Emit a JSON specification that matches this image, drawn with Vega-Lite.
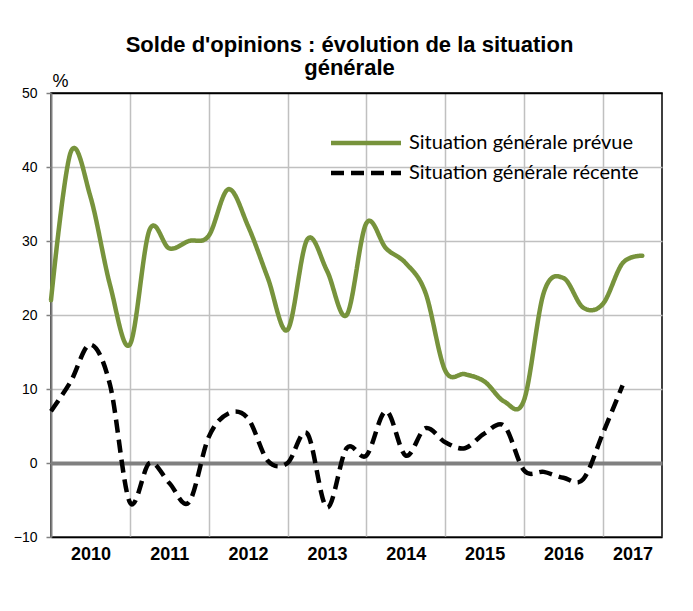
{
  "$schema": "https://vega.github.io/schema/vega-lite/v6.json",
  "width": 611,
  "height": 444,
  "autosize": {"type": "none"},
  "padding": {"left": 51, "top": 93, "right": 31, "bottom": 74},
  "background": "white",
  "title": {
    "text": ["Solde d'opinions : évolution de la situation", "générale"],
    "font": "Liberation Sans",
    "fontSize": 22,
    "fontWeight": "bold",
    "color": "#000000",
    "anchor": "middle",
    "dx": -7,
    "offset": -8,
    "lineHeight": 23
  },
  "config": {
    "view": {"stroke": "#000000", "strokeWidth": 1.5},
    "legend": {
      "orient": "none",
      "legendX": 295,
      "legendY": 30,
      "symbolType": "M-2,0H2",
      "symbolSize": 1225,
      "symbolStrokeWidth": 4.5,
      "labelFont": "Lato",
      "labelFontSize": 20,
      "labelColor": "#000000",
      "labelLimit": 400,
      "labelOffset": 23,
      "rowPadding": 0
    }
  },
  "data": {
    "values": [
      {"t": 2010.0, "serie": "Situation générale prévue", "v": 22},
      {"t": 2010.25, "serie": "Situation générale prévue", "v": 42},
      {"t": 2010.5, "serie": "Situation générale prévue", "v": 36},
      {"t": 2010.75, "serie": "Situation générale prévue", "v": 24},
      {"t": 2011.0, "serie": "Situation générale prévue", "v": 16},
      {"t": 2011.25, "serie": "Situation générale prévue", "v": 31.5},
      {"t": 2011.5, "serie": "Situation générale prévue", "v": 29},
      {"t": 2011.75, "serie": "Situation générale prévue", "v": 30},
      {"t": 2012.0, "serie": "Situation générale prévue", "v": 30.7},
      {"t": 2012.25, "serie": "Situation générale prévue", "v": 37},
      {"t": 2012.5, "serie": "Situation générale prévue", "v": 32},
      {"t": 2012.75, "serie": "Situation générale prévue", "v": 25},
      {"t": 2013.0, "serie": "Situation générale prévue", "v": 18},
      {"t": 2013.25, "serie": "Situation générale prévue", "v": 30.2},
      {"t": 2013.5, "serie": "Situation générale prévue", "v": 26},
      {"t": 2013.75, "serie": "Situation générale prévue", "v": 20},
      {"t": 2014.0, "serie": "Situation générale prévue", "v": 32.4},
      {"t": 2014.25, "serie": "Situation générale prévue", "v": 29},
      {"t": 2014.5, "serie": "Situation générale prévue", "v": 27},
      {"t": 2014.75, "serie": "Situation générale prévue", "v": 23},
      {"t": 2015.0, "serie": "Situation générale prévue", "v": 12.5},
      {"t": 2015.25, "serie": "Situation générale prévue", "v": 12},
      {"t": 2015.5, "serie": "Situation générale prévue", "v": 11},
      {"t": 2015.75, "serie": "Situation générale prévue", "v": 8.3},
      {"t": 2016.0, "serie": "Situation générale prévue", "v": 8.5},
      {"t": 2016.25, "serie": "Situation générale prévue", "v": 23},
      {"t": 2016.5, "serie": "Situation générale prévue", "v": 25},
      {"t": 2016.75, "serie": "Situation générale prévue", "v": 21},
      {"t": 2017.0, "serie": "Situation générale prévue", "v": 21.5},
      {"t": 2017.25, "serie": "Situation générale prévue", "v": 27},
      {"t": 2017.5, "serie": "Situation générale prévue", "v": 28},
      {"t": 2010.0, "serie": "Situation générale récente", "v": 7},
      {"t": 2010.25, "serie": "Situation générale récente", "v": 11},
      {"t": 2010.5, "serie": "Situation générale récente", "v": 16},
      {"t": 2010.75, "serie": "Situation générale récente", "v": 10.5},
      {"t": 2011.0, "serie": "Situation générale récente", "v": -5.3},
      {"t": 2011.25, "serie": "Situation générale récente", "v": 0},
      {"t": 2011.5, "serie": "Situation générale récente", "v": -2.7},
      {"t": 2011.75, "serie": "Situation générale récente", "v": -5.3},
      {"t": 2012.0, "serie": "Situation générale récente", "v": 3.5},
      {"t": 2012.25, "serie": "Situation générale récente", "v": 6.7},
      {"t": 2012.5, "serie": "Situation générale récente", "v": 6},
      {"t": 2012.75, "serie": "Situation générale récente", "v": 0.3},
      {"t": 2013.0, "serie": "Situation générale récente", "v": 0},
      {"t": 2013.25, "serie": "Situation générale récente", "v": 4},
      {"t": 2013.5, "serie": "Situation générale récente", "v": -6},
      {"t": 2013.75, "serie": "Situation générale récente", "v": 2},
      {"t": 2014.0, "serie": "Situation générale récente", "v": 1},
      {"t": 2014.25, "serie": "Situation générale récente", "v": 7},
      {"t": 2014.5, "serie": "Situation générale récente", "v": 1},
      {"t": 2014.75, "serie": "Situation générale récente", "v": 4.7},
      {"t": 2015.0, "serie": "Situation générale récente", "v": 2.8},
      {"t": 2015.25, "serie": "Situation générale récente", "v": 2},
      {"t": 2015.5, "serie": "Situation générale récente", "v": 4},
      {"t": 2015.75, "serie": "Situation générale récente", "v": 5},
      {"t": 2016.0, "serie": "Situation générale récente", "v": -1},
      {"t": 2016.25, "serie": "Situation générale récente", "v": -1.2},
      {"t": 2016.5, "serie": "Situation générale récente", "v": -2},
      {"t": 2016.75, "serie": "Situation générale récente", "v": -2.2},
      {"t": 2017.0, "serie": "Situation générale récente", "v": 4},
      {"t": 2017.25, "serie": "Situation générale récente", "v": 10.5}
    ]
  },
  "layer": [
    {
      "transform": [{"filter": "datum.serie === 'Situation générale prévue'"}],
      "mark": {"type": "line", "interpolate": "cardinal", "strokeWidth": 4.5, "strokeCap": "round", "strokeJoin": "round"},
      "encoding": {
        "x": {
          "field": "t", "type": "quantitative",
          "scale": {"domain": [2010, 2017.75], "nice": false, "zero": false},
          "axis": {
            "orient": "bottom",
            "values": [2011, 2012, 2013, 2014, 2015, 2016, 2017],
            "grid": true, "gridColor": "#c0c0c0", "gridWidth": 1.5,
            "labels": false, "ticks": false,
            "domain": true, "domainColor": "#000000", "domainWidth": 1.5,
            "title": null
          }
        },
        "y": {
          "field": "v", "type": "quantitative",
          "scale": {"domain": [-10, 50], "nice": false, "zero": false},
          "axis": {
            "values": [-10, 0, 10, 20, 30, 40, 50],
            "grid": true,
            "gridColor": {"condition": [{"test": "datum.value === 0", "value": "#808080"}, {"test": "datum.value === 50", "value": "#000000"}], "value": "#c0c0c0"},
            "gridWidth": {"condition": {"test": "datum.value === 0", "value": 4}, "value": 1.5},
            "domainColor": "#808080", "domainWidth": 2,
            "tickColor": "#808080", "tickSize": 5, "tickWidth": 1.5,
            "labelFont": "Liberation Sans", "labelFontSize": 14, "labelColor": "#000000", "labelPadding": 9,
            "title": "%", "titleAngle": 0, "titleX": 1, "titleY": -3,
            "titleAlign": "left", "titleBaseline": "bottom",
            "titleFont": "Liberation Sans", "titleFontSize": 18, "titleFontWeight": "normal", "titleColor": "#000000"
          }
        },
        "color": {
          "field": "serie", "type": "nominal",
          "scale": {"domain": ["Situation générale prévue", "Situation générale récente"], "range": ["#77933C", "#000000"]},
          "legend": {"title": null}
        },
        "strokeDash": {
          "field": "serie", "type": "nominal",
          "scale": {"domain": ["Situation générale prévue", "Situation générale récente"], "range": [[1, 0], [13, 7]]},
          "legend": {"title": null}
        }
      }
    },
    {
      "transform": [{"filter": "datum.serie === 'Situation générale récente'"}],
      "mark": {"type": "line", "interpolate": "cardinal", "strokeWidth": 4.5, "strokeCap": "butt", "strokeJoin": "round"},
      "encoding": {
        "x": {
          "field": "t", "type": "quantitative",
          "scale": {"domain": [2010, 2017.75], "nice": false, "zero": false},
          "axis": {
            "orient": "bottom",
            "values": [2010.5, 2011.5, 2012.5, 2013.5, 2014.5, 2015.5, 2016.5, 2017.375],
            "labelExpr": "'' + floor(datum.value)",
            "grid": false, "ticks": false, "domain": false,
            "labelFont": "Liberation Sans", "labelFontSize": 18, "labelFontWeight": "bold", "labelColor": "#000000",
            "labelPadding": 8, "labelFlush": false, "labelOverlap": false, "labelBound": false,
            "title": null
          }
        },
        "y": {
          "field": "v", "type": "quantitative",
          "scale": {"domain": [-10, 50], "nice": false, "zero": false},
          "axis": {
            "values": [-10, 0, 10, 20, 30, 40, 50],
            "grid": true,
            "gridColor": {"condition": [{"test": "datum.value === 0", "value": "#808080"}, {"test": "datum.value === 50", "value": "#000000"}], "value": "#c0c0c0"},
            "gridWidth": {"condition": {"test": "datum.value === 0", "value": 4}, "value": 1.5},
            "domainColor": "#808080", "domainWidth": 2,
            "tickColor": "#808080", "tickSize": 5, "tickWidth": 1.5,
            "labelFont": "Liberation Sans", "labelFontSize": 14, "labelColor": "#000000", "labelPadding": 9,
            "title": "%", "titleAngle": 0, "titleX": 1, "titleY": -3,
            "titleAlign": "left", "titleBaseline": "bottom",
            "titleFont": "Liberation Sans", "titleFontSize": 18, "titleFontWeight": "normal", "titleColor": "#000000"
          }
        },
        "color": {
          "field": "serie", "type": "nominal",
          "scale": {"domain": ["Situation générale prévue", "Situation générale récente"], "range": ["#77933C", "#000000"]},
          "legend": {"title": null}
        },
        "strokeDash": {
          "field": "serie", "type": "nominal",
          "scale": {"domain": ["Situation générale prévue", "Situation générale récente"], "range": [[1, 0], [13, 7]]},
          "legend": {"title": null}
        }
      }
    }
  ],
  "resolve": {"axis": {"x": "independent"}}
}
